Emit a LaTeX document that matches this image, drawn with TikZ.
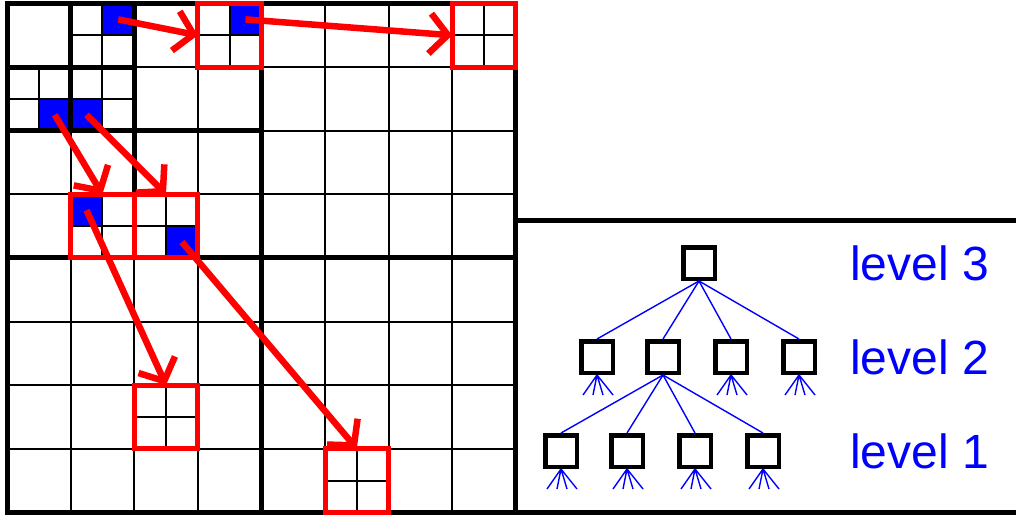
\documentclass[tikz,border=0pt]{standalone}
\usepackage{fontspec}
\setmainfont{Liberation Sans}
\usetikzlibrary{arrows.meta}
\begin{document}
\begin{tikzpicture}[x=1pt,y=-1pt,
  thin grid/.style={line width=2pt,black},
  thick grid/.style={line width=5pt,black,line cap=rect},
  bluecell/.style={fill=blue,minimum size=31.8pt,inner sep=0pt,outer sep=0pt},
  redbox/.style={draw=red,line width=5pt,minimum size=63.6pt,inner sep=0pt,outer sep=0pt},
  move/.style={red,line width=6.5pt,-{Straight Barb[length=18pt,width=40pt]}},
  tnode/.style={draw=black,line width=4.5pt,minimum size=31.5pt,inner sep=0pt},
  tedge/.style={blue,line width=1.4pt},
  lvl/.style={blue,font=\fontsize{48}{48}\selectfont,anchor=base west,inner sep=0pt}]
\useasboundingbox (0,0) rectangle (1016,514);
\fill[white] (0,0) rectangle (1016,514);

% ---------- quadtree grid (8 x 8 cells) ----------
\begin{scope}[shift={(7,3.5)},x=63.6pt,y=-63.6pt]
  % occupied sub-cells
  \node[bluecell] (b1) at (1.75,0.25) {};
  \node[bluecell] (b2) at (0.75,1.75) {};
  \node[bluecell] (b3) at (1.25,1.75) {};
  \node[bluecell] (b4) at (3.75,0.25) {};
  \node[bluecell] (b5) at (1.25,3.25) {};
  \node[bluecell] (b6) at (2.75,3.75) {};

  % regular cell lines
  \foreach \k in {1,...,7} {
    \draw[thin grid] (\k,0) -- (\k,8);
    \draw[thin grid] (0,\k) -- (8,\k);
  }
  % cells split into 2 x 2 sub-cells
  \foreach \i/\j in {1/0,0/1,1/1,3/0,7/0,1/3,2/3,2/6,5/7}
    \draw[thin grid] (\i+0.5,\j) -- (\i+0.5,\j+1) (\i,\j+0.5) -- (\i+1,\j+0.5);

  % coarser levels
  \draw[thick grid] (0,0) rectangle (8,8);
  \draw[thick grid] (4,0) -- (4,8) (0,4) -- (8,4)
                    (2,0) -- (2,4) (0,2) -- (4,2)
                    (1,0) -- (1,2) (0,1) -- (2,1);

  % target cells
  \node[redbox] (r1) at (3.5,0.5) {};
  \node[redbox] (r2) at (7.5,0.5) {};
  \node[redbox] (r3) at (1.5,3.5) {};
  \node[redbox] (r4) at (2.5,3.5) {};
  \node[redbox] (r5) at (2.5,6.5) {};
  \node[redbox] (r6) at (5.5,7.5) {};

  % moves
  \draw[move] (b1.center) -- (r1.west);
  \draw[move] (b4.center) -- (r2.west);
  \draw[move] (b2.center) -- (r3.north);
  \draw[move] (b3.center) -- (r4.north);
  \draw[move] (b5.center) -- (r5.north);
  \draw[move] (b6.center) -- (r6.north);
\end{scope}

% ---------- tree panel ----------
\draw[line width=5pt] (515.8,220.5) rectangle (1030,512.3);

\node[tnode] (n3) at (699,263) {};
\node[tnode] (n2a) at (597,357) {};
\node[tnode] (n2b) at (663,357) {};
\node[tnode] (n2c) at (731,357) {};
\node[tnode] (n2d) at (799,357) {};
\node[tnode] (n1a) at (561,451) {};
\node[tnode] (n1b) at (627,451) {};
\node[tnode] (n1c) at (695,451) {};
\node[tnode] (n1d) at (763,451) {};

\foreach \c in {n2a,n2b,n2c,n2d}
  \draw[tedge] (n3.south) -- (\c.north);
\foreach \c in {n1a,n1b,n1c,n1d}
  \draw[tedge] (n2b.south) -- (\c.north);
\foreach \n in {n2a,n2c,n2d,n1a,n1b,n1c,n1d}
  \draw[tedge] (\n.south) -- ++(-14,20) (\n.south) -- ++(-4,20)
               (\n.south) -- ++(6,20)   (\n.south) -- ++(16,20);

\node[lvl] (l3) at (850,280) {level 3};
\node[lvl] (l2) at (850,374) {level 2};
\node[lvl] (l1) at (850,468) {level 1};
\end{tikzpicture}
\end{document}
